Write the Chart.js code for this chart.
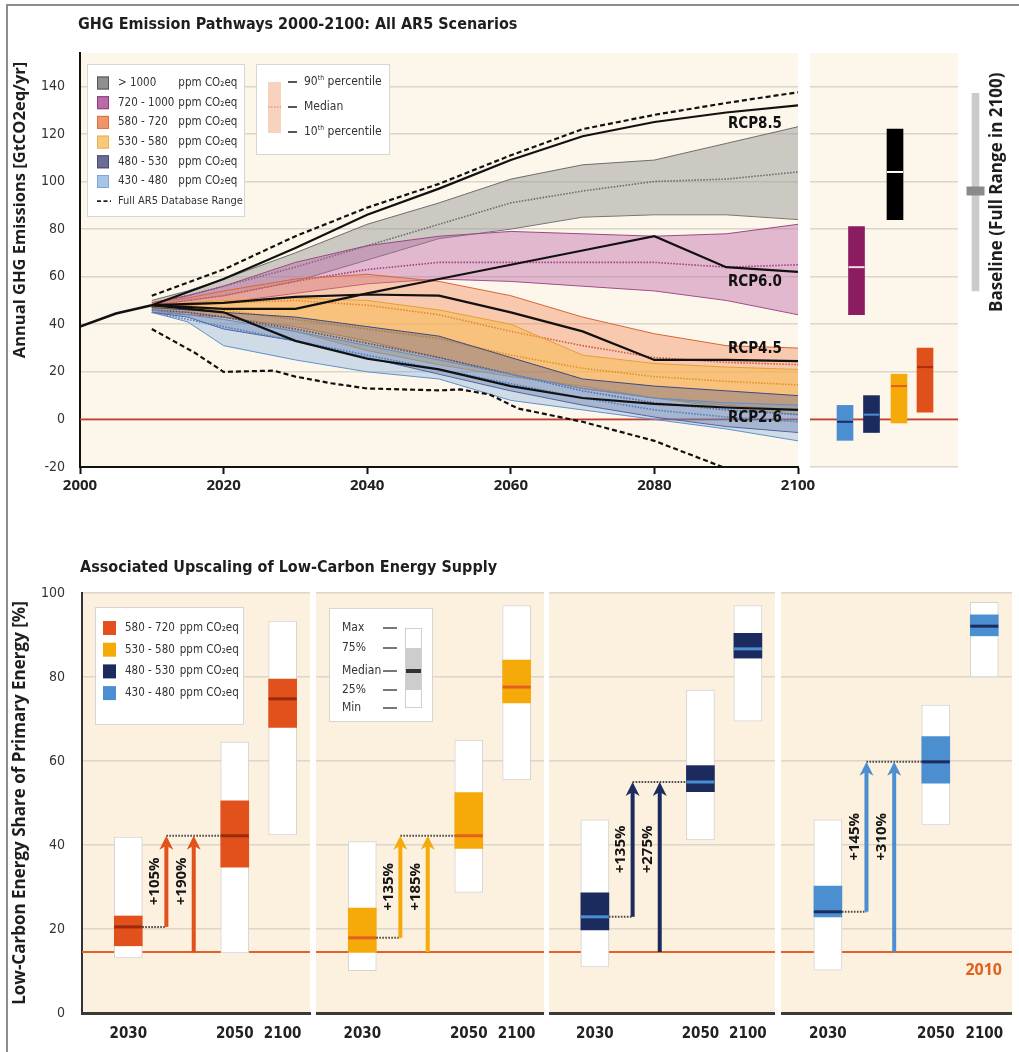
<!DOCTYPE html>
<html>
<head>
<meta charset="utf-8">
<title>GHG Emission Pathways and Low-Carbon Energy Supply</title>
<script src="https://cdn.jsdelivr.net/npm/chart.js@4.4.1/dist/chart.umd.min.js"></script>
<style>
  html, body { margin: 0; padding: 0; background: #ffffff; }
  body { position: relative; width: 1019px; height: 1052px; overflow: hidden; }
  canvas { position: absolute; }
  #frame { position: absolute; left: 6px; top: 4px; right: -10px; bottom: -10px;
           border-left: 2px solid #8c8c8c; border-top: 2px solid #8c8c8c; }
</style>
</head>
<body>
<div id="frame"></div>
<canvas id="pathways" width="830" height="500" style="left:0;top:0;width:830px;height:500px"></canvas>
<canvas id="range2100" width="211" height="500" style="left:808px;top:0;width:211px;height:500px"></canvas>
<canvas id="supply0" width="600" height="507" style="left:0;top:545px;width:600px;height:507px"></canvas>
<canvas id="supply1" width="228" height="507" style="left:316px;top:545px;width:228px;height:507px"></canvas>
<canvas id="supply2" width="226" height="507" style="left:549px;top:545px;width:226px;height:507px"></canvas>
<canvas id="supply3" width="231" height="507" style="left:781px;top:545px;width:231px;height:507px"></canvas>
<script>
// ---------------- Emission pathways, GtCO2eq/yr ----------------
const histYears = [2000, 2005, 2010];
const histEmissions = [39, 44.5, 48];

const bandYears = [2010, 2015, 2020, 2030, 2040, 2050, 2060, 2070, 2080, 2090, 2100];
const concCategories = ['> 1000', '720 - 1000', '580 - 720', '530 - 580', '480 - 530', '430 - 480'];

const gt1000P90 = [50, 54, 59, 70, 82, 91, 101, 107, 109, 116, 123];
const gt1000Med = [49, 52, 56, 64, 73, 82, 91, 96, 100, 101, 104];
const gt1000P10 = [48, 50, 52, 58, 67, 76, 80, 85, 86, 86, 84];

const c720P90 = [49, 52, 56, 66, 73, 77, 79, 78, 77, 78, 82];
const c720Med = [48, 50, 52, 58, 63, 66, 66, 66, 66, 64, 65];
const c720P10 = [47, 48, 49, 53, 57, 59, 58, 56, 54, 50, 44];

const c580P90 = [49, 51, 54, 59, 61, 58, 52, 43, 36, 31, 30];
const c580Med = [47, 48, 49, 50, 48, 44, 37, 31, 26, 24, 23];
const c580P10 = [45, 44, 43, 39, 33, 26, 19, 13, 9, 6, 4];

const c530P90 = [48, 49, 50, 51, 50, 46, 40, 27, 23.5, 22, 21];
const c530Med = [47, 47, 46, 42, 38, 34, 27, 21.5, 18, 16, 14.5];
const c530P10 = [46, 45, 43, 37, 29, 23, 18, 14, 9, 5, 2];

const c480P90 = [47, 46, 45, 43, 39, 35, 26, 17, 14, 12, 10];
const c480Med = [46, 45, 43, 38, 32, 26, 19, 12, 7, 4, 2];
const c480P10 = [45, 43, 38, 33, 26, 19, 12, 6, 1, -3, -5.5];

const c430P90 = [46, 44, 42, 37, 31, 25, 19, 13, 9, 7, 6];
const c430Med = [45, 42, 39, 33, 27, 21, 15, 9, 4, 1, -1];
const c430P10 = [45, 41, 31, 25, 20, 17, 8, 4, 0, -4, -9];

const rcpYears = [2010, 2020, 2030, 2040, 2050, 2060, 2070, 2080, 2090, 2100];
const rcp85 = [48, 59, 72, 86, 97, 109, 119, 125, 129, 132];
const rcp60 = [48, 46.5, 46.5, 53, 59, 65, 71, 77, 64, 62];
const rcp45 = [48, 49, 51.5, 52.5, 52, 45, 37, 25, 25, 24.5];
const rcp26 = [48, 45, 33, 25.5, 21, 14, 9, 6.5, 5, 4];
const rcpNames = ['RCP8.5', 'RCP6.0', 'RCP4.5', 'RCP2.6'];

const dbUpperYears = [2010, 2020, 2030, 2040, 2050, 2060, 2070, 2080, 2090, 2100];
const dbUpper = [52, 63, 77, 89, 99, 111, 122, 128, 133, 137.5];
const dbLowerYears = [2010, 2013, 2016, 2020, 2027, 2030, 2035, 2040, 2050, 2053, 2057, 2061, 2070, 2080, 2089.5];
const dbLower = [38, 33, 28, 20, 20.5, 18, 15.2, 13, 12.2, 12.6, 10.5, 4.6, -1, -9, -20];

const yTicksTop = [-20, 0, 20, 40, 60, 80, 100, 120, 140];
const xTicksTop = [2000, 2020, 2040, 2060, 2080, 2100];

// 2100 ranges per category (right-hand panel)
const rangeCats = ['430 - 480', '480 - 530', '530 - 580', '580 - 720', '720 - 1000', '> 1000'];
const range2100Lo  = [-8.8, -5.5, -1.5, 3, 44, 84];
const range2100Med = [-1, 2, 14, 22, 64, 104];
const range2100Hi  = [5.9, 10, 19, 30, 81, 122];
const baseline2100Lo = 54;
const baseline2100Med = 96;
const baseline2100Hi = 137;

// ---------------- Low-carbon share of primary energy, % ----------------
const lowCarbonCats = ['580 - 720', '530 - 580', '480 - 530', '430 - 480'];
const shareYears = ['2030', '2050', '2100'];
const share2010 = 14.5;
const min2030 = [13.1, 10.1, 11.0, 10.2];
const q1_2030 = [16.0, 14.4, 19.8, 22.9];
const med2030 = [20.5, 17.9, 22.9, 24.1];
const q3_2030 = [23.1, 25.0, 28.6, 30.2];
const max2030 = [41.9, 40.8, 46.0, 46.0];
const min2050 = [14.3, 28.7, 41.2, 44.8];
const q1_2050 = [34.7, 39.2, 52.7, 54.7];
const med2050 = [42.2, 42.2, 55.0, 59.8];
const q3_2050 = [50.5, 52.5, 58.9, 65.8];
const max2050 = [64.5, 65.0, 76.9, 73.3];
const min2100 = [42.4, 55.5, 69.5, 80.0];
const q1_2100 = [68.0, 73.8, 84.5, 89.8];
const med2100 = [74.8, 77.6, 86.7, 92.1];
const q3_2100 = [79.5, 84.0, 90.4, 94.8];
const max2100 = [93.3, 97.0, 97.0, 97.8];
const gainSince2030 = ['+105%', '+135%', '+135%', '+145%'];
const gainSince2010 = ['+190%', '+185%', '+275%', '+310%'];
const yTicksShare = [0, 20, 40, 60, 80, 100];

// ---------------- styling ----------------
const COND = '"Liberation Sans Narrow", "DejaVu Sans Condensed", "Roboto Condensed", "Arial Narrow", sans-serif';
const SANS = '"Open Sans", "Noto Sans", "DejaVu Sans", sans-serif';
const BEIGE_TOP = '#fdf6ea';
const BEIGE_LOW = '#fcf0de';
const GRID = '#dcd5c9';

Chart.defaults.font.family = SANS;
Chart.defaults.color = '#222';

const bands = [
  { p90: gt1000P90, med: gt1000Med, p10: gt1000P10, fill: 'rgba(150,150,150,0.48)', edge: '#6e6e6e', median: '#6a6a6a', swatch: '#8f8f8f', swatchEdge: '#555', order: 60 },
  { p90: c720P90,  med: c720Med,  p10: c720P10,  fill: 'rgba(185,92,165,0.40)', edge: '#9a4a86', median: '#9c3f7e', swatch: '#b96aa7', swatchEdge: '#8b3f7a', order: 50 },
  { p90: c580P90,  med: c580Med,  p10: c580P10,  fill: 'rgba(240,135,85,0.40)', edge: '#d8663a', median: '#d25a2e', swatch: '#f0946a', swatchEdge: '#d8703f', order: 40 },
  { p90: c530P90,  med: c530Med,  p10: c530P10,  fill: 'rgba(250,186,64,0.45)', edge: '#e6a030', median: '#df9420', swatch: '#f9c97a', swatchEdge: '#e8b060', order: 30 },
  { p90: c480P90,  med: c480Med,  p10: c480P10,  fill: 'rgba(72,82,140,0.34)', edge: '#3e4a82', median: '#44508c', swatch: '#6c6c94', swatchEdge: '#4a4b74', order: 20 },
  { p90: c430P90,  med: c430Med,  p10: c430P10,  fill: 'rgba(112,162,222,0.32)', edge: '#5d8fcc', median: '#4a7fc0', swatch: '#a7c5ea', swatchEdge: '#7fa5d5', order: 10 }
];

const boxColor = ['#e2501b', '#f6aa0a', '#1c2b5d', '#4b8fd1'];
const boxMedian = ['#9a2a0c', '#e0601e', '#4a8fd2', '#1c2b5d'];
const rangeColor = ['#4b8fd1', '#1c2b5d', '#f6aa0a', '#e0501a', '#8b1c62', '#000000'];
const rangeMedColor = ['#1c2b5d', '#4a8fd2', '#e0601e', '#a8300e', '#f3d6e6', '#ffffff'];

// horizontal slots inside the panels (pixels / fractions of the plot area)
const rangeSlot = [35, 61.5, 89, 115, 46.5, 85];
const baselineSlot = 165.5;
const shareSlot = [0.203, 0.67, 0.88];
const arrowSlot = [0.37, 0.49];
const rcpLabelYear = 2094;
const rcpLabelValue = [124, 57.5, 29.5, 0.5];

// ---------------- helpers ----------------
function pts(xs, ys) { return xs.map((x, i) => ({ x, y: ys[i] })); }
function fixedTicks(list) { return s => { s.ticks = list.map(v => ({ value: v })); }; }
function txt(ctx, str, x, y, font, color, align, baseline, rot) {
  ctx.save();
  ctx.translate(x, y);
  if (rot) ctx.rotate(rot);
  ctx.font = font;
  ctx.fillStyle = color;
  ctx.textAlign = align || 'left';
  ctx.textBaseline = baseline || 'middle';
  ctx.fillText(str, 0, 0);
  ctx.restore();
}
function ordinal(ctx, num, sup, rest, x, y, size, color) {
  ctx.save();
  ctx.fillStyle = color;
  ctx.textBaseline = 'middle';
  ctx.textAlign = 'left';
  ctx.font = size + 'px ' + COND;
  ctx.fillText(num, x, y);
  let w = ctx.measureText(num).width;
  ctx.font = Math.round(size * 0.62) + 'px ' + COND;
  ctx.fillText(sup, x + w, y - 4);
  w += ctx.measureText(sup).width;
  ctx.font = size + 'px ' + COND;
  ctx.fillText(rest, x + w, y);
  ctx.restore();
}
function fillArea(chart, color) {
  const { ctx, chartArea: a } = chart;
  ctx.save();
  ctx.fillStyle = color;
  ctx.fillRect(a.left, a.top, a.right - a.left, a.bottom - a.top);
  ctx.restore();
}
function hLine(chart, value, color, width) {
  const { ctx, chartArea: a, scales: { y } } = chart;
  const py = y.getPixelForValue(value);
  ctx.save();
  ctx.strokeStyle = color;
  ctx.lineWidth = width;
  ctx.beginPath();
  ctx.moveTo(a.left, py);
  ctx.lineTo(a.right, py);
  ctx.stroke();
  ctx.restore();
}
const noPadding = s => { s.paddingLeft = 0; s.paddingRight = 0; };

// ---------------- top: pathways ----------------
const pathwayDatasets = [];
bands.forEach(b => {
  pathwayDatasets.push({ data: pts(bandYears, b.p90), borderColor: b.edge, borderWidth: 1, pointRadius: 0,
    fill: '+1', backgroundColor: b.fill, order: b.order });
  pathwayDatasets.push({ data: pts(bandYears, b.p10), borderColor: b.edge, borderWidth: 1, pointRadius: 0,
    fill: false, order: b.order });
  pathwayDatasets.push({ data: pts(bandYears, b.med), borderColor: b.median, borderWidth: 1.6, borderDash: [1.5, 1.5],
    pointRadius: 0, fill: false, order: b.order - 5 });
});
[rcp85, rcp60, rcp45, rcp26].forEach(r => {
  pathwayDatasets.push({ data: pts(rcpYears, r), borderColor: '#111', borderWidth: 2.2, pointRadius: 0, fill: false, order: 1 });
});
pathwayDatasets.push({ data: pts(histYears, histEmissions), borderColor: '#111', borderWidth: 2.6, pointRadius: 0, fill: false, order: 1 });
pathwayDatasets.push({ data: pts(dbUpperYears, dbUpper), borderColor: '#111', borderWidth: 2.2, borderDash: [5, 3],
  pointRadius: 0, fill: false, order: 0 });
pathwayDatasets.push({ data: pts(dbLowerYears, dbLower), borderColor: '#111', borderWidth: 2.2, borderDash: [5, 3],
  pointRadius: 0, fill: false, order: 0 });

const pathwayDecor = {
  id: 'pathwayDecor',
  beforeDraw(chart) { fillArea(chart, BEIGE_TOP); },
  beforeDatasetsDraw(chart) { hLine(chart, 0, '#c63d2c', 1.6); },
  afterDraw(chart) {
    const { ctx, chartArea: a, scales: { x, y } } = chart;
    txt(ctx, 'GHG Emission Pathways 2000-2100: All AR5 Scenarios', a.left - 2, 25, 'bold 16px ' + COND, '#1e1e1e');
    txt(ctx, 'Annual GHG Emissions [GtCO2eq/yr]', 20, 210, 'bold 16.5px ' + SANS, '#1e1e1e', 'center', 'middle', -Math.PI / 2);

    rcpNames.forEach((n, i) => {
      txt(ctx, n, x.getPixelForValue(rcpLabelYear), y.getPixelForValue(rcpLabelValue[i]), 'bold 15px ' + COND, '#111', 'center');
    });

    // concentration category key
    const L = a.left + 7, T = a.top + 11;
    ctx.save();
    ctx.fillStyle = '#ffffff';
    ctx.fillRect(L, T, 158, 153);
    ctx.strokeStyle = '#d6d6d6';
    ctx.lineWidth = 1;
    ctx.strokeRect(L + 0.5, T + 0.5, 157, 152);
    ctx.font = '11.5px ' + COND;
    let ppmX = L + 86;
    concCategories.forEach(c => { ppmX = Math.max(ppmX, L + 31 + ctx.measureText(c).width + 4); });
    bands.forEach((b, i) => {
      const ry = T + 19 + i * 19.7;
      ctx.fillStyle = b.swatch;
      ctx.fillRect(L + 10, ry - 6.5, 12, 13);
      ctx.strokeStyle = b.swatchEdge;
      ctx.strokeRect(L + 10.5, ry - 6, 11, 12);
      txt(ctx, concCategories[i], L + 31, ry, '11.5px ' + COND, '#333');
      txt(ctx, 'ppm CO\u2082eq', ppmX, ry, '11.5px ' + COND, '#333');
    });
    const ry = T + 19 + 6 * 19.7;
    ctx.strokeStyle = '#222';
    ctx.lineWidth = 1.8;
    ctx.setLineDash([4, 2.5]);
    ctx.beginPath(); ctx.moveTo(L + 10, ry); ctx.lineTo(L + 24, ry); ctx.stroke();
    ctx.setLineDash([]);
    txt(ctx, 'Full AR5 Database Range', L + 31, ry, '11px ' + COND, '#333');

    // percentile key
    const L2 = a.left + 176;
    ctx.fillStyle = '#ffffff';
    ctx.fillRect(L2, T, 134, 91);
    ctx.strokeStyle = '#d6d6d6';
    ctx.lineWidth = 1;
    ctx.strokeRect(L2 + 0.5, T + 0.5, 133, 90);
    ctx.fillStyle = '#f7d2bf';
    ctx.fillRect(L2 + 12, T + 18, 13, 51);
    ctx.strokeStyle = '#e59a78';
    ctx.lineWidth = 1.4;
    ctx.setLineDash([1.5, 1.5]);
    ctx.beginPath(); ctx.moveTo(L2 + 12, T + 43); ctx.lineTo(L2 + 25, T + 43); ctx.stroke();
    ctx.setLineDash([]);
    ctx.strokeStyle = '#555';
    ctx.lineWidth = 2;
    [18, 43, 68].forEach(dy => {
      ctx.beginPath(); ctx.moveTo(L2 + 32, T + dy); ctx.lineTo(L2 + 41, T + dy); ctx.stroke();
    });
    ordinal(ctx, '90', 'th', ' percentile', L2 + 48, T + 18, 12, '#333');
    txt(ctx, 'Median', L2 + 48, T + 43, '12px ' + COND, '#333');
    ordinal(ctx, '10', 'th', ' percentile', L2 + 48, T + 68, 12, '#333');
    ctx.restore();
  }
};

new Chart(document.getElementById('pathways'), {
  type: 'line',
  data: { datasets: pathwayDatasets },
  options: {
    responsive: false, animation: false, events: [], devicePixelRatio: 1,
    layout: { autoPadding: false, padding: { top: 53, right: 32, left: 0, bottom: 0 } },
    plugins: { legend: { display: false }, tooltip: { enabled: false } },
    elements: { line: { tension: 0 } },
    scales: {
      x: {
        type: 'linear', min: 2000, max: 2100, offset: false,
        afterBuildTicks: fixedTicks(xTicksTop),
        afterFit: s => { s.height = 33; noPadding(s); },
        grid: { drawOnChartArea: false, drawTicks: true, tickLength: 7, tickWidth: 2, tickColor: '#111' },
        border: { color: '#111', width: 2 },
        ticks: { callback: v => String(v), font: { family: SANS, weight: 'bold', size: 15 }, color: '#222',
                 padding: 3, maxRotation: 0, autoSkip: false }
      },
      y: {
        min: -20, max: 154,
        afterBuildTicks: fixedTicks(yTicksTop),
        afterFit: s => { s.width = 80; },
        grid: { color: GRID, lineWidth: 1.5, drawTicks: false },
        border: { color: '#111', width: 2 },
        ticks: { font: { family: COND, size: 14 }, color: '#333', padding: 15 }
      }
    }
  },
  plugins: [pathwayDecor]
});

// ---------------- top right: 2100 ranges ----------------
const rangeDecor = {
  id: 'rangeDecor',
  beforeDraw(chart) { fillArea(chart, BEIGE_TOP); },
  beforeDatasetsDraw(chart) { hLine(chart, 0, '#c63d2c', 1.6); },
  afterDraw(chart) {
    const { ctx, chartArea: a, scales: { y } } = chart;
    const cy = (y.getPixelForValue(baseline2100Lo) + y.getPixelForValue(baseline2100Hi)) / 2;
    txt(ctx, 'Baseline (Full Range in 2100)', a.right + 39, cy, 'bold 17px ' + SANS, '#1e1e1e', 'center', 'middle', -Math.PI / 2);
  }
};

new Chart(document.getElementById('range2100'), {
  type: 'bar',
  data: {
    datasets: [
      { data: rangeCats.map((c, i) => ({ x: rangeSlot[i], y: [range2100Lo[i], range2100Hi[i]] })),
        backgroundColor: rangeColor, borderWidth: 0, barThickness: 16, grouped: false, order: 3 },
      { data: [{ x: baselineSlot, y: [baseline2100Lo, baseline2100Hi] }],
        backgroundColor: '#cbcbcb', borderWidth: 0, barThickness: 7, grouped: false, clip: false, order: 3 },
      { type: 'line', data: rangeCats.map((c, i) => ({ x: rangeSlot[i], y: range2100Med[i] })), showLine: false,
        pointStyle: 'line', pointRadius: 8, pointBorderWidth: 2, pointBorderColor: rangeMedColor, order: 1 },
      { type: 'line', data: [{ x: baselineSlot, y: baseline2100Med }], showLine: false, clip: false,
        pointStyle: 'line', pointRadius: 9, pointBorderWidth: 9, pointBorderColor: '#8a8a8a', order: 1 }
    ]
  },
  options: {
    responsive: false, animation: false, events: [], devicePixelRatio: 1,
    layout: { autoPadding: false, padding: { top: 53, right: 61, left: 2, bottom: 33 } },
    plugins: { legend: { display: false }, tooltip: { enabled: false } },
    scales: {
      x: { type: 'linear', min: 0, max: 148, offset: false, display: false },
      y: {
        min: -20, max: 154,
        afterBuildTicks: fixedTicks(yTicksTop),
        afterFit: s => { s.width = 0; },
        grid: { color: GRID, lineWidth: 1.5, drawTicks: false },
        border: { display: false },
        ticks: { display: false }
      }
    }
  },
  plugins: [rangeDecor]
});

// ---------------- bottom: low-carbon supply panels ----------------
function drawArrow(ctx, x, y0, y1, color) {
  ctx.save();
  ctx.strokeStyle = color;
  ctx.fillStyle = color;
  ctx.lineWidth = 4;
  ctx.beginPath(); ctx.moveTo(x, y0); ctx.lineTo(x, y1 + 10); ctx.stroke();
  ctx.beginPath();
  ctx.moveTo(x, y1);
  ctx.lineTo(x - 7, y1 + 14);
  ctx.lineTo(x, y1 + 10);
  ctx.lineTo(x + 7, y1 + 14);
  ctx.closePath();
  ctx.fill();
  ctx.restore();
}
function dotted(ctx, x0, x1, y) {
  ctx.save();
  ctx.strokeStyle = '#4a4a4a';
  ctx.lineWidth = 2;
  ctx.setLineDash([1.6, 1.4]);
  ctx.beginPath(); ctx.moveTo(x0, y); ctx.lineTo(x1, y); ctx.stroke();
  ctx.restore();
}

function supplyPanel(k) {
  const first = k === 0;
  const xs = shareSlot;
  const mins = [min2030[k], min2050[k], min2100[k]];
  const q1s = [q1_2030[k], q1_2050[k], q1_2100[k]];
  const meds = [med2030[k], med2050[k], med2100[k]];
  const q3s = [q3_2030[k], q3_2050[k], q3_2100[k]];
  const maxs = [max2030[k], max2050[k], max2100[k]];

  const decor = {
    id: 'supplyDecor' + k,
    beforeDraw(chart) { fillArea(chart, BEIGE_LOW); },
    beforeDatasetsDraw(chart) { hLine(chart, share2010, '#e2602a', 2); },
    afterDatasetsDraw(chart) {
      const { ctx, scales: { x, y } } = chart;
      const half = 14;
      const ax = x.getPixelForValue(arrowSlot[0]);
      const bx = x.getPixelForValue(arrowSlot[1]);
      const yFrom = y.getPixelForValue(med2030[k]);
      const yTo = y.getPixelForValue(med2050[k]);
      const yBase = y.getPixelForValue(share2010);
      dotted(ctx, x.getPixelForValue(xs[0]) + half, ax, yFrom);
      dotted(ctx, ax, x.getPixelForValue(xs[1]) - half, yTo);
      drawArrow(ctx, ax, yFrom, yTo, boxColor[k]);
      drawArrow(ctx, bx, yBase, yTo, boxColor[k]);
      const mid = y.getPixelForValue((med2030[k] + med2050[k]) / 2);
      txt(ctx, gainSince2030[k], ax - 12, mid, 'bold 15px ' + SANS, '#151515', 'center', 'middle', -Math.PI / 2);
      txt(ctx, gainSince2010[k], bx - 12, mid, 'bold 15px ' + SANS, '#151515', 'center', 'middle', -Math.PI / 2);
    },
    afterDraw(chart) {
      const { ctx, chartArea: a, scales: { y } } = chart;
      if (k === 0) {
        txt(ctx, 'Associated Upscaling of Low-Carbon Energy Supply', a.left - 2, 23, 'bold 16px ' + COND, '#1e1e1e');
        txt(ctx, 'Low-Carbon Energy Share of Primary Energy [%]', 20, (a.top + a.bottom) / 2, 'bold 17px ' + SANS, '#1e1e1e', 'center', 'middle', -Math.PI / 2);
        const L = a.left + 13, T = a.top + 14;
        ctx.save();
        ctx.fillStyle = '#ffffff';
        ctx.fillRect(L, T, 149, 118);
        ctx.strokeStyle = '#d6d6d6';
        ctx.lineWidth = 1;
        ctx.strokeRect(L + 0.5, T + 0.5, 148, 117);
        ctx.font = '11.5px ' + COND;
        let ppmX = L + 83;
        lowCarbonCats.forEach(c => { ppmX = Math.max(ppmX, L + 30 + ctx.measureText(c).width + 5); });
        lowCarbonCats.forEach((c, i) => {
          const ry = T + 21 + i * 21.7;
          ctx.fillStyle = boxColor[i];
          ctx.fillRect(L + 8, ry - 7, 13, 14);
          txt(ctx, c, L + 30, ry, '11.5px ' + COND, '#333');
          txt(ctx, 'ppm CO\u2082eq', ppmX, ry, '11.5px ' + COND, '#333');
        });
        ctx.restore();
      }
      if (k === 1) {
        const L = a.left + 13, T = a.top + 15;
        ctx.save();
        ctx.fillStyle = '#ffffff';
        ctx.fillRect(L, T, 104, 114);
        ctx.strokeStyle = '#d6d6d6';
        ctx.lineWidth = 1;
        ctx.strokeRect(L + 0.5, T + 0.5, 103, 113);
        const rows = [['Max', 20], ['75%', 40], ['Median', 63], ['25%', 82], ['Min', 100]];
        ctx.strokeStyle = '#555';
        ctx.lineWidth = 1.6;
        rows.forEach(r => {
          txt(ctx, r[0], L + 13, T + r[1], '12px ' + COND, '#333');
          ctx.beginPath(); ctx.moveTo(L + 54, T + r[1]); ctx.lineTo(L + 68, T + r[1]); ctx.stroke();
        });
        ctx.fillStyle = '#ffffff';
        ctx.fillRect(L + 76, T + 20, 17, 80);
        ctx.strokeStyle = '#cfcfcf';
        ctx.lineWidth = 1;
        ctx.strokeRect(L + 76.5, T + 20.5, 16, 79);
        ctx.fillStyle = '#cdcdcd';
        ctx.fillRect(L + 77, T + 40, 15, 42);
        ctx.fillStyle = '#333';
        ctx.fillRect(L + 77, T + 61, 15, 4);
        ctx.restore();
      }
      if (k === 3) {
        txt(ctx, '2010', a.right - 10, y.getPixelForValue(share2010) + 18, 'bold 16px ' + SANS, '#e0601e', 'right');
      }
    }
  };

  new Chart(document.getElementById('supply' + k), {
    type: 'bar',
    data: {
      datasets: [
        { data: xs.map((x, i) => ({ x, y: [mins[i], maxs[i]] })), backgroundColor: '#ffffff', borderColor: '#d4d4d4',
          borderWidth: 1, borderSkipped: false, barThickness: 28, grouped: false, order: 3 },
        { data: xs.map((x, i) => ({ x, y: [q1s[i], q3s[i]] })), backgroundColor: boxColor[k], borderWidth: 0,
          barThickness: 28, grouped: false, order: 2 },
        { type: 'line', data: xs.map((x, i) => ({ x, y: meds[i] })), showLine: false, pointStyle: 'line',
          pointRadius: 14, pointBorderWidth: 3, pointBorderColor: boxMedian[k], order: 1 }
      ]
    },
    options: {
      responsive: false, animation: false, events: [], devicePixelRatio: 1,
      layout: { autoPadding: false, padding: { top: 48, right: first ? 290 : 0, left: 0, bottom: 0 } },
      plugins: { legend: { display: false }, tooltip: { enabled: false } },
      scales: {
        x: {
          type: 'linear', min: 0, max: 1, offset: false,
          afterBuildTicks: fixedTicks(xs),
          afterFit: s => { s.height = 39; noPadding(s); },
          grid: { drawOnChartArea: false, drawTicks: false },
          border: { color: '#3a3a3a', width: 3 },
          ticks: { callback: (v, i) => shareYears[i], font: { family: COND, weight: 'bold', size: 15 }, color: '#222',
                   padding: 12, maxRotation: 0, autoSkip: false }
        },
        y: {
          min: 0, max: 100,
          afterBuildTicks: fixedTicks(yTicksShare),
          afterFit: s => { s.width = first ? 82 : 0; },
          grid: { color: GRID, lineWidth: 1.5, drawTicks: false },
          border: first ? { color: '#333', width: 2 } : { display: false },
          ticks: first ? { font: { family: COND, size: 14 }, color: '#333', padding: 17 } : { display: false }
        }
      }
    },
    plugins: [decor]
  });
}
[0, 1, 2, 3].forEach(supplyPanel);
</script>
</body>
</html>
